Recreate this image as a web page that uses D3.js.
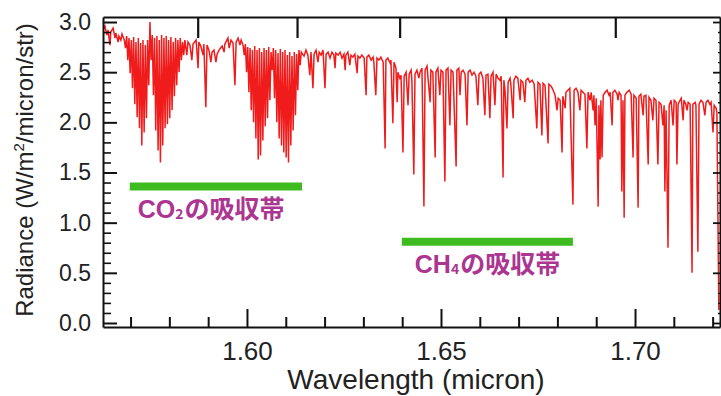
<!DOCTYPE html>
<html>
<head>
<meta charset="utf-8">
<script src="https://cdn.jsdelivr.net/npm/d3@7"></script>
<style>
  body { margin: 0; background: #fff; }
  svg { display: block; font-family: "Liberation Sans", Arial, sans-serif; }
</style>
</head>
<body>
<div id="chart"></div>
<script>
// spectrum: [wavelength (micron), radiance]
const spectrum = [
  // short-wave edge
  [1.5629,2.92],[1.5634,2.96],[1.5639,2.87],[1.5642,2.92],[1.5647,2.77],[1.5649,2.90],[1.5655,2.94],
  [1.5660,2.84],[1.5662,2.89],[1.5668,2.80],[1.5670,2.86],[1.5675,2.82],[1.5678,2.88],
  // CO2 band (1.57 - 1.58)
  [1.5684,2.82],[1.5687,2.74],[1.5690,2.86],[1.5693,2.62],[1.5696,2.84],[1.5699,2.49],[1.5702,2.82],
  [1.5705,2.34],[1.5708,2.85],[1.5711,2.18],[1.5714,2.80],[1.5717,2.05],[1.5720,2.84],[1.5723,1.94],
  [1.5726,2.79],[1.5729,1.77],[1.5732,2.82],[1.5735,1.90],[1.5738,2.77],[1.5741,2.04],[1.5744,2.82],
  [1.5747,2.37],[1.5750,3.00],[1.5753,2.62],[1.5756,2.87],[1.5759,2.27],[1.5762,2.84],[1.5765,1.92],
  [1.5768,2.86],[1.5771,1.72],[1.5774,2.82],[1.5777,1.60],[1.5780,2.87],[1.5783,1.77],[1.5786,2.84],
  [1.5789,1.94],[1.5792,2.86],[1.5795,1.98],[1.5798,2.82],[1.5801,2.04],[1.5804,2.85],[1.5807,2.12],
  [1.5810,2.80],[1.5813,2.26],[1.5816,2.84],[1.5819,2.37],[1.5822,2.82],[1.5825,2.50],[1.5828,2.84],
  [1.5831,2.62],[1.5834,2.80],[1.5837,2.67],[1.5840,2.82],
  // between the CO2 bands
  [1.5845,2.67],[1.5848,2.80],[1.5853,2.77],[1.5858,2.62],[1.5861,2.78],[1.5869,2.82],[1.5874,2.54],
  [1.5876,2.80],[1.5881,2.76],[1.5887,2.67],[1.5889,2.78],[1.5894,2.15],[1.5897,2.77],[1.5902,2.72],
  [1.5907,2.60],[1.5910,2.70],[1.5915,2.72],[1.5920,2.60],[1.5923,2.68],[1.5928,2.72],[1.5936,2.76],
  [1.5941,2.70],[1.5943,2.78],[1.5951,2.84],[1.5954,2.74],[1.5959,2.82],[1.5964,2.79],[1.5969,2.37],
  [1.5972,2.80],[1.5977,2.84],[1.5982,2.77],[1.5985,2.82],
  // CO2 band (1.60 - 1.61)
  [1.5990,2.77],[1.5993,2.67],[1.5996,2.78],[1.5999,2.50],[1.6002,2.75],[1.6005,2.30],[1.6008,2.74],
  [1.6011,2.12],[1.6014,2.72],[1.6017,2.00],[1.6020,2.76],[1.6023,1.84],[1.6026,2.72],[1.6029,1.63],
  [1.6032,2.74],[1.6035,1.67],[1.6038,2.70],[1.6041,1.82],[1.6044,2.74],[1.6047,1.96],[1.6050,2.72],
  [1.6053,2.04],[1.6056,2.75],[1.6059,2.22],[1.6062,2.70],[1.6065,2.52],[1.6068,2.74],[1.6071,2.24],
  [1.6074,2.72],[1.6077,2.00],[1.6080,2.69],[1.6083,1.84],[1.6086,2.73],[1.6089,1.77],[1.6092,2.70],
  [1.6095,1.70],[1.6098,2.72],[1.6101,1.65],[1.6104,2.67],[1.6107,1.60],[1.6110,2.70],[1.6113,1.77],
  [1.6116,2.66],[1.6119,1.92],[1.6122,2.70],[1.6125,2.07],[1.6128,2.68],[1.6131,2.32],[1.6134,2.72],
  [1.6137,2.57],[1.6140,2.70],
  // 1.615 - 1.64
  [1.6147,2.66],[1.6152,2.72],[1.6157,2.67],[1.6162,2.47],[1.6165,2.70],[1.6170,2.34],[1.6173,2.68],
  [1.6178,2.72],[1.6183,2.60],[1.6186,2.70],[1.6191,2.67],[1.6196,2.72],[1.6201,2.34],[1.6204,2.68],
  [1.6209,2.70],[1.6214,2.64],[1.6219,2.70],[1.6224,2.67],[1.6227,2.54],[1.6229,2.69],[1.6235,2.67],
  [1.6240,2.70],[1.6245,2.64],[1.6250,2.68],[1.6253,2.52],[1.6255,2.67],[1.6260,2.70],[1.6265,2.57],
  [1.6268,2.67],[1.6273,2.65],[1.6278,2.68],[1.6284,2.49],[1.6286,2.66],[1.6291,2.64],[1.6296,2.67],
  [1.6302,2.64],[1.6307,2.27],[1.6309,2.65],[1.6314,2.67],[1.6320,2.62],[1.6325,2.65],[1.6327,2.60],
  [1.6332,2.27],[1.6335,2.64],[1.6340,2.62],[1.6345,2.65],[1.6351,2.60],[1.6356,1.74],[1.6358,2.62],
  [1.6363,2.64],[1.6369,2.59],[1.6371,2.62],[1.6376,1.99],[1.6379,2.60],[1.6384,2.54],[1.6387,2.20],
  [1.6389,2.50],[1.6394,2.44],[1.6397,2.47],
  // CH4 band
  [1.6402,1.70],[1.6405,2.46],[1.6410,2.50],[1.6415,2.17],[1.6418,2.48],[1.6423,2.52],[1.6425,2.42],
  [1.6430,1.48],[1.6433,2.48],[1.6438,2.52],[1.6443,2.44],[1.6446,2.50],[1.6451,2.54],[1.6456,1.16],
  [1.6459,2.52],[1.6464,2.56],[1.6466,2.47],[1.6472,2.20],[1.6474,2.52],[1.6479,2.50],[1.6485,1.65],
  [1.6487,2.50],[1.6492,2.54],[1.6497,2.27],[1.6500,2.52],[1.6505,2.50],[1.6510,1.41],[1.6513,2.52],
  [1.6518,2.54],[1.6523,1.97],[1.6526,2.52],[1.6531,2.50],[1.6539,1.56],[1.6541,2.52],[1.6546,2.54],
  [1.6549,2.27],[1.6552,2.50],[1.6557,2.52],[1.6562,2.48],[1.6567,1.97],[1.6570,2.50],[1.6575,2.52],
  [1.6580,2.47],[1.6585,2.50],[1.6590,2.46],[1.6595,2.17],[1.6598,2.48],[1.6603,2.50],[1.6608,2.44],
  [1.6613,2.07],[1.6616,2.47],[1.6621,2.48],[1.6626,2.04],[1.6629,2.46],[1.6634,2.50],[1.6639,2.17],
  [1.6642,2.48],[1.6647,2.44],[1.6652,2.42],[1.6655,2.46],[1.6660,1.45],[1.6662,2.42],[1.6665,2.32],
  [1.6670,1.94],[1.6673,2.40],[1.6678,2.44],[1.6680,2.38],[1.6686,2.04],[1.6688,2.42],[1.6693,2.46],
  [1.6698,2.44],[1.6704,2.22],[1.6706,2.42],[1.6711,2.40],[1.6716,2.20],[1.6719,2.42],[1.6724,2.44],
  [1.6729,2.40],[1.6735,2.42],[1.6740,2.38],[1.6747,1.94],[1.6750,2.40],[1.6755,2.38],[1.6760,1.87],
  [1.6763,2.39],[1.6768,2.37],[1.6776,1.79],[1.6778,2.38],[1.6784,2.36],[1.6789,2.32],[1.6794,2.27],
  [1.6799,2.12],[1.6802,2.24],[1.6807,2.22],[1.6812,1.70],[1.6814,2.26],[1.6820,2.14],[1.6822,2.30],
  [1.6827,2.32],[1.6832,2.34],[1.6840,1.18],[1.6843,2.32],
  // long-wave side
  [1.6848,2.34],[1.6853,2.30],[1.6858,2.12],[1.6861,2.32],[1.6866,2.30],[1.6871,2.28],[1.6876,1.74],
  [1.6879,2.30],[1.6884,2.22],[1.6887,2.30],[1.6892,2.12],[1.6894,2.27],[1.6897,1.97],[1.6900,2.24],
  [1.6902,1.82],[1.6905,1.16],[1.6907,2.17],[1.6910,1.63],[1.6912,2.22],[1.6915,1.65],[1.6918,2.27],
  [1.6923,2.30],[1.6928,2.32],[1.6933,2.27],[1.6936,2.30],[1.6941,1.97],[1.6943,2.30],[1.6948,2.32],
  [1.6954,2.28],[1.6956,2.22],[1.6959,2.30],[1.6964,2.27],[1.6966,1.31],[1.6969,2.22],[1.6972,1.05],
  [1.6974,2.27],[1.6979,2.30],[1.6985,2.32],[1.6990,2.28],[1.6995,1.65],[1.6997,2.27],[1.7003,2.24],
  [1.7008,1.15],[1.7010,2.26],[1.7015,2.28],[1.7021,2.07],[1.7023,2.26],[1.7028,2.27],[1.7034,1.58],
  [1.7036,2.25],[1.7041,2.22],[1.7046,2.02],[1.7049,2.24],[1.7054,2.22],[1.7059,1.58],[1.7062,2.20],
  [1.7067,2.18],[1.7072,1.97],[1.7075,2.17],[1.7077,1.31],[1.7080,2.12],[1.7085,0.75],[1.7088,2.17],
  [1.7093,2.22],[1.7098,1.97],[1.7101,2.22],[1.7106,2.20],[1.7108,1.58],[1.7111,2.18],[1.7116,2.22],
  [1.7119,2.24],[1.7124,2.02],[1.7126,2.22],[1.7131,2.18],[1.7134,2.12],[1.7137,2.20],[1.7142,2.18],
  [1.7147,0.50],[1.7149,2.18],[1.7155,2.20],[1.7157,2.17],[1.7162,0.71],[1.7165,2.18],[1.7170,2.22],
  [1.7175,2.20],[1.7180,2.07],[1.7183,2.20],[1.7188,2.22],[1.7193,2.18],[1.7196,2.20],[1.7201,1.90],
  [1.7204,2.17],[1.7209,2.14],[1.7211,2.10],[1.7216,0.13]
];

// absorption band markers
const bands = [
  { gas: "CO", sub: "2", from: 1.5698, to: 1.6142, level: 1.36 },
  { gas: "CH", sub: "4", from: 1.6399, to: 1.6840, level: 0.81 }
];
const bandText = "の吸収帯";

const xMajor = [1.60, 1.65, 1.70];
const xMinor = [1.57, 1.58, 1.59, 1.61, 1.62, 1.63, 1.64, 1.66, 1.67, 1.68, 1.69, 1.71, 1.72];
const yMajor = [0.0, 0.5, 1.0, 1.5, 2.0, 2.5, 3.0];
const yMinor = [0.1, 0.2, 0.3, 0.4, 0.6, 0.7, 0.8, 0.9, 1.1, 1.2, 1.3, 1.4, 1.6, 1.7, 1.8, 1.9,
                2.1, 2.2, 2.3, 2.4, 2.6, 2.7, 2.8, 2.9];
// top axis ticks are in wavenumber (cm-1)
const topWavenumbers = [6300, 6200, 6100, 6000, 5900];

const W = 721, H = 396;
const plot = { left: 103, right: 720, top: 17, bottom: 327 };

const svg = d3.select("#chart").append("svg")
    .attr("width", W)
    .attr("height", H);

const x = d3.scaleLinear().domain([1.5629, 1.7219]).range([plot.left, plot.right]);
const y = d3.scaleLinear().domain([-0.04, 3.05]).range([plot.bottom, plot.top]);

svg.append("clipPath").attr("id", "clip")
  .append("rect")
    .attr("x", plot.left).attr("y", plot.top)
    .attr("width", plot.right - plot.left).attr("height", plot.bottom - plot.top);

// spectrum
const line = d3.line().x(d => x(d[0])).y(d => y(d[1]));
svg.append("path")
    .datum(spectrum)
    .attr("clip-path", "url(#clip)")
    .attr("fill", "none")
    .attr("stroke", "#f01c1c")
    .attr("stroke-width", 1.5)
    .attr("stroke-linejoin", "miter")
    .attr("d", line);

// axes
function styleAxis(g, width) {
  g.select(".domain").attr("stroke", "#111").attr("stroke-width", 2);
  g.selectAll(".tick line").attr("stroke", "#111").attr("stroke-width", width);
  g.selectAll(".tick text").attr("fill", "#222");
}

const bottom = svg.append("g")
    .attr("transform", `translate(0,${plot.bottom})`)
    .call(d3.axisBottom(x).tickValues(xMajor).tickSize(-18).tickSizeOuter(0)
      .tickPadding(15).tickFormat(d3.format(".2f")))
    .attr("font-size", 26).attr("font-family", "Liberation Sans, Arial, sans-serif");
styleAxis(bottom, 2);

svg.append("g")
    .attr("transform", `translate(0,${plot.bottom})`)
    .call(d3.axisBottom(x).tickValues(xMinor).tickSize(-10).tickFormat(""))
    .call(g => g.select(".domain").remove())
    .call(g => styleAxis(g, 2));

const left = svg.append("g")
    .attr("transform", `translate(${plot.left},0)`)
    .call(d3.axisLeft(y).tickValues(yMajor).tickSize(-14).tickSizeOuter(0)
      .tickPadding(12).tickFormat(d3.format(".1f")))
    .attr("font-size", 23).attr("font-family", "Liberation Sans, Arial, sans-serif");
styleAxis(left, 2);

svg.append("g")
    .attr("transform", `translate(${plot.left},0)`)
    .call(d3.axisLeft(y).tickValues(yMinor).tickSize(-8).tickFormat(""))
    .call(g => g.select(".domain").remove())
    .call(g => styleAxis(g, 1.6));

svg.append("g")
    .attr("transform", `translate(0,${plot.top})`)
    .call(d3.axisTop(x).tickValues(topWavenumbers.map(w => 1e4 / w))
      .tickSize(-21).tickSizeOuter(0).tickFormat(""))
    .call(g => styleAxis(g, 2.2));

svg.append("g")
    .attr("transform", `translate(${plot.right},0)`)
    .call(d3.axisRight(y).tickValues(yMajor).tickSize(-7).tickSizeOuter(0).tickFormat(""))
    .call(g => styleAxis(g, 1.8));

svg.append("g")
    .attr("transform", `translate(${plot.right},0)`)
    .call(d3.axisRight(y).tickValues(yMinor).tickSize(-2).tickFormat(""))
    .call(g => g.select(".domain").remove())
    .call(g => styleAxis(g, 1.4));

// absorption band bars + labels
svg.selectAll(".band")
  .data(bands)
  .enter()
  .append("line")
    .attr("class", "band")
    .attr("x1", d => x(d.from))
    .attr("x2", d => x(d.to))
    .attr("y1", d => y(d.level))
    .attr("y2", d => y(d.level))
    .attr("stroke", "#3dbb1f")
    .attr("stroke-width", 8);

const labels = svg.selectAll(".band-label")
  .data(bands)
  .enter()
  .append("text")
    .attr("class", "band-label")
    .attr("x", (d, i) => x(d.from) + (i === 0 ? 8 : 13))
    .attr("y", d => y(d.level) + 31)
    .attr("fill", "#ab3590")
    .attr("font-family", "'Noto Sans CJK JP', 'Noto Sans', sans-serif")
    .attr("font-weight", "bold")
    .attr("font-size", 25);
labels.append("tspan").attr("font-family", "Liberation Sans, Arial, sans-serif").text(d => d.gas);
labels.append("tspan").attr("font-size", 14).attr("dy", 1).text(d => d.sub);
labels.append("tspan").attr("dy", -1).attr("dx", 1).text(bandText);

// axis titles
svg.append("text")
    .attr("x", 416)
    .attr("y", 389)
    .attr("text-anchor", "middle")
    .attr("font-size", 28)
    .attr("fill", "#222")
    .text("Wavelength (micron)");

const ytitle = svg.append("text")
    .attr("transform", "translate(33,170) rotate(-90)")
    .attr("text-anchor", "middle")
    .attr("font-size", 24)
    .attr("fill", "#222");
ytitle.append("tspan").text("Radiance (W/m");
ytitle.append("tspan").attr("font-size", 15).attr("dy", -9).text("2");
ytitle.append("tspan").attr("dy", 9).text("/micron/str)");
</script>
</body>
</html>
